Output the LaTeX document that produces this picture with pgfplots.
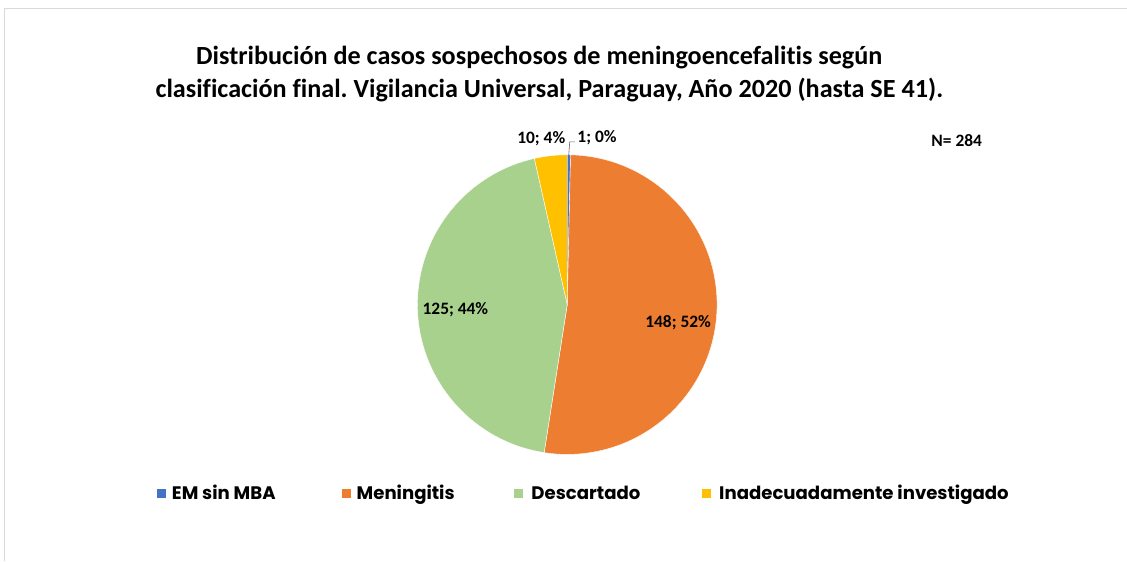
\documentclass[border=0pt]{standalone}
\usepackage{pgfplots}
\usepackage{pgfplotstable}
\pgfplotsset{compat=1.18}
\usepackage{fontspec}
\setmainfont{Carlito}[Ligatures=NoCommon]
\newfontfamily\legfont{Poppins}

\definecolor{emblue}{HTML}{4472C4}
\definecolor{menor}{HTML}{ED7D31}
\definecolor{desgreen}{HTML}{A9D18E}
\definecolor{inyellow}{HTML}{FFC000}
\definecolor{frame}{HTML}{D9D9D9}

% casos por clasificacion final, en el orden de la torta (sentido horario desde arriba)
\pgfplotstableread{
value color
1 emblue
148 menor
125 desgreen
10 inyellow
}\piedata

\begin{document}
\frenchspacing
\begin{tikzpicture}
\fill[white] (0,0) rectangle (1127bp,561bp);
\draw[frame, line width=1bp] (5bp,-1bp) -- (5bp,552bp) -- (1128bp,552bp);
\begin{axis}[
    at={(0,0)}, anchor=origin,
    scale only axis,
    width=1127bp, height=561bp,
    xmin=0, xmax=1127, ymin=0, ymax=561,
    enlargelimits=false,
    hide axis,
    clip=false,
]
% torta: angulos a partir de los valores de la tabla
\pgfplotsextra{
  \pgfplotstablegetrowsof{\piedata}\pgfmathtruncatemacro\nlast{\pgfplotsretval-1}
  \def\total{0}
  \pgfplotsforeachungrouped \i in {0,...,\nlast}{
    \pgfplotstablegetelem{\i}{value}\of\piedata
    \pgfmathsetmacro\total{\total+\pgfplotsretval}
  }
  \def\acc{90}
  \pgfplotsforeachungrouped \i in {0,...,\nlast}{
    \pgfplotstablegetelem{\i}{value}\of\piedata \let\val\pgfplotsretval
    \pgfplotstablegetelem{\i}{color}\of\piedata \let\col\pgfplotsretval
    \pgfmathsetmacro\endang{\acc-\val/\total*360}
    \fill[\col, draw=white, line width=0.4bp] (axis cs:568,256) -- ++(\acc:150bp)
      arc[start angle=\acc, end angle=\endang, radius=150bp] -- cycle;
    \let\acc\endang
  }
}

% etiquetas de datos
\tikzset{lbl/.style={font=\fontsize{17.5}{21}\selectfont\bfseries}}
\draw[black!60, line width=0.6bp] (axis cs:569.5,406) -- (axis cs:570.5,419) -- (axis cs:576,419);
\node[lbl, anchor=west, inner sep=1bp] at (axis cs:577,423) {1; 0\%};
\node[lbl] at (axis cs:542,422) {10; 4\%};
\node[lbl] at (axis cs:456,251) {125; 44\%};
\node[lbl] at (axis cs:679,238) {148; 52\%};
\node[lbl] at (axis cs:958,420) {N= 284};

% titulo
\node[font=\fontsize{26.3}{31}\selectfont\bfseries] at (axis cs:540,503.5)
  {Distribución de casos sospechosos de meningoencefalitis según};
\node[font=\fontsize{26.3}{31}\selectfont\bfseries] at (axis cs:550,471)
  {clasificación final. Vigilancia Universal, Paraguay, Año 2020 (hasta SE 41).};

% leyenda
\tikzset{leg/.style={font=\legfont\fontsize{18.2}{22}\selectfont\bfseries, anchor=base west, inner sep=0}}
\fill[emblue] (axis cs:157,62) rectangle (axis cs:166,71);
\node[leg] at (axis cs:172,60.5) {EM sin MBA};
\fill[menor] (axis cs:342,62) rectangle (axis cs:351,71);
\node[leg] at (axis cs:357,60.5) {Meningitis};
\fill[desgreen] (axis cs:515,62) rectangle (axis cs:524,71);
\node[leg] at (axis cs:532,60.5) {Descartado};
\fill[inyellow] (axis cs:703,62) rectangle (axis cs:712,71);
\node[leg] at (axis cs:720,60.5) {Inadecuadamente investigado};
\end{axis}
\end{tikzpicture}
\end{document}
